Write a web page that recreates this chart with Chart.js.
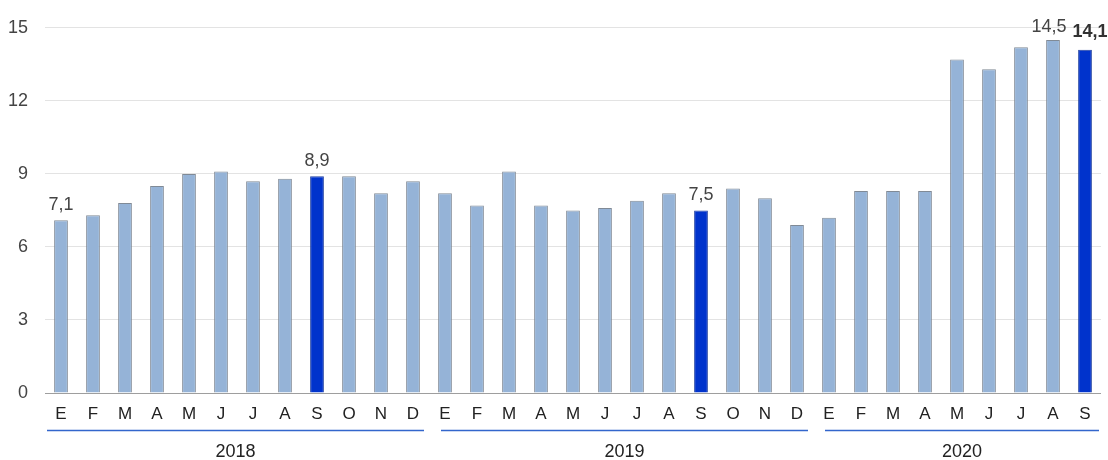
<!DOCTYPE html>
<html>
<head>
<meta charset="utf-8">
<script src="https://cdn.jsdelivr.net/npm/chart.js@4/dist/chart.umd.min.js"></script>
<style>
  html, body { margin: 0; padding: 0; background: #ffffff; }
  #wrap { width: 1108px; height: 460px; position: relative; }
</style>
</head>
<body>
<div id="wrap"><canvas id="c" width="1108" height="460"></canvas></div>
<script>
// ---- data ----
const months2018 = ["E","F","M","A","M","J","J","A","S","O","N","D"];
const months2019 = ["E","F","M","A","M","J","J","A","S","O","N","D"];
const months2020 = ["E","F","M","A","M","J","J","A","S"];
const values2018 = [7.1, 7.3, 7.8, 8.5, 9.0, 9.1, 8.7, 8.8, 8.9, 8.9, 8.2, 8.7];
const values2019 = [8.2, 7.7, 9.1, 7.7, 7.5, 7.6, 7.9, 8.2, 7.5, 8.4, 8.0, 6.9];
const values2020 = [7.2, 8.3, 8.3, 8.3, 13.7, 13.3, 14.2, 14.5, 14.1];
const years = ["2018", "2019", "2020"];
const yTicks = [0, 3, 6, 9, 12, 15];
const highlighted = [8, 20, 32];          // September bars
const annotated = [0, 8, 20, 31, 32];     // bars with a value label
const boldAnnotated = [32];

const labels = [...months2018, ...months2019, ...months2020];
const values = [...values2018, ...values2019, ...values2020];
const groupSizes = [months2018.length, months2019.length, months2020.length];

const fmt = v => v.toFixed(1).replace('.', ',');

const LIGHT = '#95b3d7', DARK = '#0033cc';
const FONT = '"Liberation Sans", Arial, sans-serif';

const decorPlugin = {
  id: 'decor',
  afterDatasetsDraw(chart) {
    const ctx = chart.ctx;
    const meta = chart.getDatasetMeta(0);
    const area = chart.chartArea;
    // value labels
    ctx.save();
    ctx.textAlign = 'center';
    ctx.textBaseline = 'alphabetic';
    annotated.forEach(i => {
      const bar = meta.data[i];
      const bold = boldAnnotated.includes(i);
      ctx.font = (bold ? 'bold ' : '') + '18px ' + FONT;
      ctx.fillStyle = bold ? '#333333' : '#444444';
      let dx = 0, gap = 10;
      if (i === 31) { dx = -4; gap = 8; }
      if (i === 32) { dx = 5; gap = 13; }
      ctx.fillText(fmt(values[i]), bar.x + dx, bar.y - gap);
    });
    ctx.restore();

    // year group lines and labels
    const xs = chart.scales.x;
    ctx.save();
    let start = 0;
    groupSizes.forEach((n, g) => {
      const first = start, last = start + n - 1;
      const half = (xs.getPixelForValue(1) - xs.getPixelForValue(0)) / 2;
      const leftB = xs.getPixelForValue(first) - half;
      const rightB = xs.getPixelForValue(last) + half;
      const x1 = leftB + (g === 0 ? 2 : 12);
      const x2 = rightB - (g === groupSizes.length - 1 ? 2 : 5);
      const ly = area.bottom + 37.5;
      ctx.strokeStyle = '#3366cc';
      ctx.lineWidth = 1.3;
      ctx.beginPath();
      ctx.moveTo(x1, ly);
      ctx.lineTo(x2, ly);
      ctx.stroke();
      ctx.fillStyle = '#222222';
      ctx.font = '18px ' + FONT;
      ctx.textAlign = 'center';
      ctx.textBaseline = 'middle';
      ctx.fillText(years[g], (x1 + x2) / 2, area.bottom + 59);
      start += n;
    });
    ctx.restore();
  }
};

new Chart(document.getElementById('c'), {
  type: 'bar',
  data: {
    labels: labels,
    datasets: [{
      data: values,
      backgroundColor: values.map((v, i) => highlighted.includes(i) ? DARK : LIGHT),
      borderColor: values.map((v, i) => highlighted.includes(i) ? '#1f3f9f' : '#808a96'),
      borderWidth: 1,
      categoryPercentage: 1.0,
      barPercentage: 0.43
    }]
  },
  options: {
    responsive: false,
    animation: false,
    layout: { padding: { top: 26, right: 7, left: 0, bottom: 0 } },
    plugins: { legend: { display: false }, tooltip: { enabled: false } },
    scales: {
      x: {
        grid: { display: false, drawTicks: false },
        border: { display: false },
        ticks: {
          color: '#222222',
          font: { family: FONT, size: 17 },
          padding: 11,
          maxRotation: 0,
          autoSkip: false
        },
        afterFit(scale) { scale.height = 67; }
      },
      y: {
        min: 0,
        max: 15,
        afterBuildTicks(scale) { scale.ticks = yTicks.map(v => ({ value: v })); },
        grid: {
          color: ctx => (ctx.tick && ctx.tick.value === 0) ? '#9e9e9e' : '#e3e3e3',
          drawTicks: false,
          lineWidth: 1
        },
        border: { display: false },
        ticks: {
          color: '#444444',
          font: { family: FONT, size: 18 },
          padding: 17
        },
        afterFit(scale) { scale.width = 45; }
      }
    }
  },
  plugins: [decorPlugin]
});
</script>
</body>
</html>
